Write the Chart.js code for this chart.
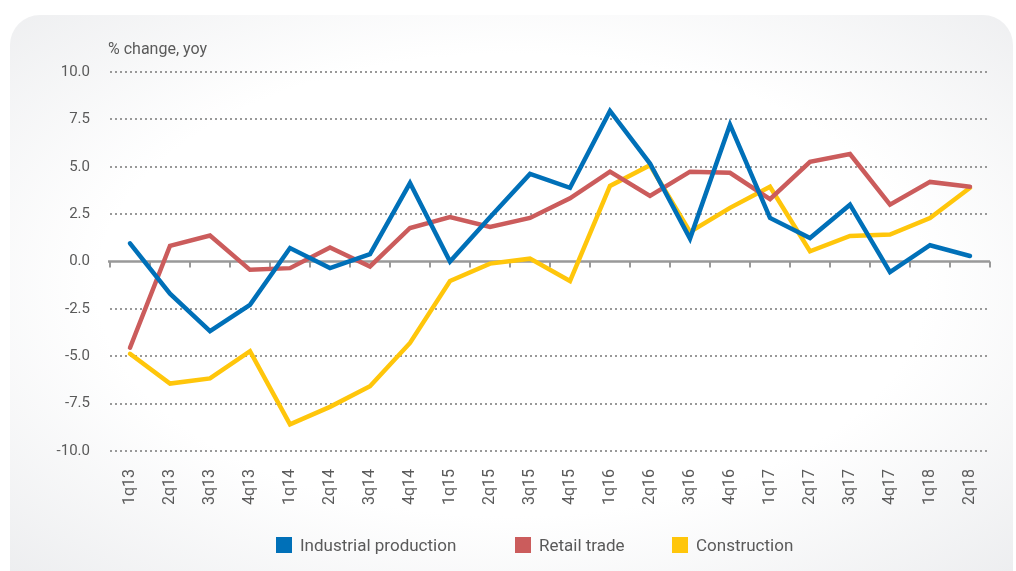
<!DOCTYPE html>
<html>
<head>
<meta charset="utf-8">
<script src="https://cdn.jsdelivr.net/npm/chart.js@4.4.1/dist/chart.umd.min.js"></script>
<style>
  html, body { margin: 0; padding: 0; background: #fff; overflow: hidden; }
  #wrap { position: relative; width: 1016px; height: 571px; font-family: Roboto, 'Open Sans', sans-serif; }
  #panel {
    position: absolute; left: 10px; top: 15px; width: 1003px; height: 600px;
    border-radius: 30px;
    background: radial-gradient(ellipse 75% 70% at 50% 45%, #ffffff 55%, #ebecee 100%);
  }
  #chart { position: absolute; left: 0; top: 0; }
  .legend-item { position: absolute; top: 534px; height: 22px; line-height: 22px; font-size: 17px; color: #5a5a5a; white-space: nowrap; }
  .legend-item i { display: inline-block; width: 16px; height: 16px; vertical-align: -2px; margin-right: 8px; }
</style>
</head>
<body>
<div id="wrap">
  <div id="panel"></div>
  <canvas id="chart" width="1016" height="571"></canvas>
  <div id="legend"></div>
</div>
<script>
const quarters = ["1q13", "2q13", "3q13", "4q13", "1q14", "2q14", "3q14", "4q14",
  "1q15", "2q15", "3q15", "4q15", "1q16", "2q16", "3q16", "4q16",
  "1q17", "2q17", "3q17", "4q17", "1q18", "2q18"];

const industrial = [0.96, -1.7, -3.67, -2.29, 0.71, -0.35, 0.39, 4.14,
  0.0, 2.34, 4.62, 3.89, 7.95, 5.17, 1.21, 7.22,
  2.3, 1.24, 3.0, -0.56, 0.86, 0.29];

const retail = [-4.55, 0.83, 1.37, -0.44, -0.35, 0.74, -0.26, 1.77,
  2.34, 1.82, 2.3, 3.33, 4.74, 3.46, 4.74, 4.68,
  3.29, 5.26, 5.67, 3.0, 4.2, 3.94];

const construction = [-4.87, -6.44, -6.17, -4.73, -8.59, -7.67, -6.58, -4.3,
  -1.03, -0.11, 0.15, -1.03, 3.99, 5.08, 1.56, 2.83,
  3.94, 0.54, 1.35, 1.42, 2.29, 3.89];

const yTicks = [-10, -7.5, -5, -2.5, 0, 2.5, 5, 7.5, 10];
const unitLabel = "% change, yoy";

const BLUE = "#0070b8";
const RED = "#cb5c5c";
const YELLOW = "#ffc60b";
const GRID = "#999999";
const TEXT = "#5a5a5a";
const FONT = "Roboto, 'Open Sans', sans-serif";

// zero line with small tick marks between the quarters, plus the unit label
const zeroAxis = {
  id: "zeroAxis",
  beforeDatasetsDraw(chart) {
    const ctx = chart.ctx;
    const x = chart.scales.x;
    const y = chart.scales.y;
    const y0 = y.getPixelForValue(0);
    ctx.save();
    ctx.strokeStyle = GRID;
    ctx.lineWidth = 2.5;
    ctx.beginPath();
    ctx.moveTo(x.left - 2, y0);
    ctx.lineTo(x.right, y0);
    ctx.stroke();
    ctx.lineWidth = 2;
    ctx.beginPath();
    for (let i = 0; i <= quarters.length; i++) {
      const px = x.getPixelForValue(i - 0.5);
      ctx.moveTo(px, y0);
      ctx.lineTo(px, y0 + 6);
    }
    ctx.stroke();
    ctx.restore();
  },
  afterDraw(chart) {
    const ctx = chart.ctx;
    ctx.save();
    ctx.fillStyle = TEXT;
    ctx.font = "16px " + FONT;
    ctx.textAlign = "left";
    ctx.textBaseline = "middle";
    ctx.fillText(unitLabel, chart.chartArea.left - 2, chart.chartArea.top - 22);
    ctx.restore();
  },
};

const chart = new Chart(document.getElementById("chart").getContext("2d"), {
  type: "line",
  data: {
    labels: quarters,
    datasets: [
      { label: "Industrial production", data: industrial, borderColor: BLUE, backgroundColor: BLUE },
      { label: "Retail trade", data: retail, borderColor: RED, backgroundColor: RED },
      { label: "Construction", data: construction, borderColor: YELLOW, backgroundColor: YELLOW },
    ],
  },
  options: {
    responsive: false,
    animation: false,
    layout: { padding: { left: 0, right: 26, top: 72, bottom: 0 } },
    elements: {
      line: { borderWidth: 4.5, tension: 0, fill: false, borderCapStyle: "round", borderJoinStyle: "miter" },
      point: { radius: 0, hoverRadius: 0 },
    },
    scales: {
      x: {
        offset: true,
        grid: { display: false, drawTicks: false },
        border: { display: false },
        ticks: {
          color: TEXT,
          font: { family: FONT, size: 16 },
          minRotation: 90,
          maxRotation: 90,
          padding: 18,
          autoSkip: false,
        },
        afterFit(scale) { scale.height = 120; },
      },
      y: {
        min: -10,
        max: 10,
        afterBuildTicks(scale) { scale.ticks = yTicks.map(v => ({ value: v })); },
        grid: {
          drawTicks: false,
          lineWidth: 2,
          color: ctx => (ctx.tick && ctx.tick.value === 0 ? "rgba(0,0,0,0)" : GRID),
        },
        border: { display: false, dash: [2, 3] },
        ticks: {
          color: TEXT,
          font: { family: FONT, size: 15 },
          padding: 20,
          callback: v => v.toFixed(1),
        },
        afterFit(scale) { scale.width = 110; },
      },
    },
    plugins: {
      legend: { display: false },
      tooltip: { enabled: false },
    },
  },
  plugins: [zeroAxis],
});

// legend below the chart, built from the datasets
const legendLeft = [276, 515, 672];
const legendEl = document.getElementById("legend");
chart.data.datasets.forEach((ds, i) => {
  const item = document.createElement("div");
  item.className = "legend-item";
  item.style.left = legendLeft[i] + "px";
  const box = document.createElement("i");
  box.style.background = ds.borderColor;
  item.appendChild(box);
  item.appendChild(document.createTextNode(ds.label));
  legendEl.appendChild(item);
});
</script>
</body>
</html>
